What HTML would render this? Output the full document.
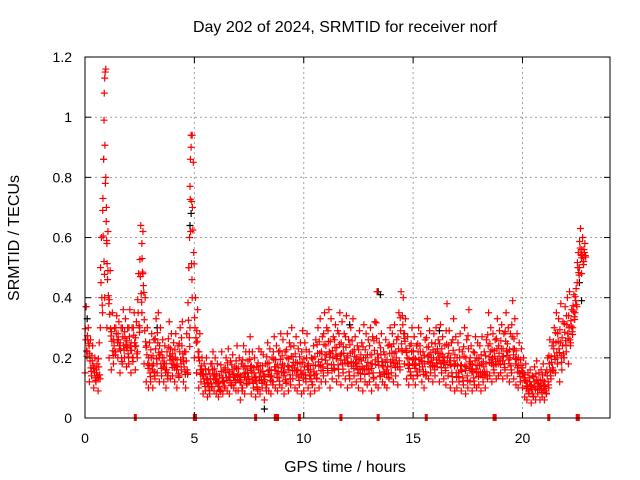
<!DOCTYPE html>
<html><head><meta charset="utf-8"><style>
body{margin:0;background:#fff}
svg{display:block;font-family:"Liberation Sans",sans-serif}
</style></head><body>
<svg id="c" width="640" height="480">
<text x="345" y="32" font-size="16" text-anchor="middle">Day 202 of 2024, SRMTID for receiver norf</text>
<text x="345" y="472" font-size="16" text-anchor="middle">GPS time / hours</text>
<text transform="translate(19,238) rotate(-90)" font-size="16" text-anchor="middle">SRMTID / TECUs</text>
<g id="grid"></g><g id="black"></g><g id="red"></g><g id="axes"></g>
</svg>
<script>
const xTicks=[0,5,10,15,20];
const yTicks=[0,0.2,0.4,0.6,0.8,1,1.2];
const yTickLabels=["0","0.2","0.4","0.6","0.8","1","1.2"];
const redLo=[.15,.22,.12,.14,.10,.12,.09,.30,.35,.40,
.30,.20,.16,.18,.22,.20,.15,.18,.20,.17,
.18,.15,.20,.16,.22,.30,.35,.18,.12,.10,
.12,.10,.13,.15,.12,.14,.12,.10,.15,.13,
.14,.12,.10,.14,.16,.12,.10,.15,.30,.40,
.20,.15,.10,.12,.08,.09,.07,.08,.10,.09,
.08,.07,.09,.08,.10,.09,.08,.11,.10,.09,
.09,.06,.10,.08,.11,.12,.08,.10,.07,.09,
.08,.10,.06,.11,.09,.08,.12,.10,.09,.11,
.10,.08,.12,.09,.11,.13,.10,.09,.11,.08,
.09,.12,.10,.08,.11,.09,.13,.10,.12,.14,
.12,.15,.10,.13,.16,.12,.14,.11,.15,.13,
.10,.13,.11,.14,.12,.10,.13,.09,.12,.11,
.12,.09,.13,.11,.10,.14,.12,.11,.10,.13,
.15,.12,.14,.11,.16,.22,.18,.13,.11,.14,
.13,.11,.14,.16,.12,.10,.14,.13,.15,.12,
.14,.17,.12,.15,.13,.11,.14,.10,.12,.09,
.10,.12,.09,.11,.08,.10,.12,.09,.11,.10,
.11,.09,.12,.10,.13,.14,.12,.15,.13,.14,
.15,.13,.16,.14,.12,.15,.13,.11,.10,.12,
.10,.07,.06,.08,.05,.07,.06,.08,.06,.07,
.06,.08,.10,.13,.16,.15,.18,.12,.16,.20,
.22,.18,.25,.30,.35,.45,.50,.48,.52];
const redHi=[.37,.30,.26,.24,.20,.18,.25,.60,.86,1.16,
.62,.49,.35,.30,.34,.32,.30,.36,.33,.30,
.36,.30,.35,.32,.48,.64,.62,.40,.30,.25,
.28,.26,.33,.35,.30,.26,.24,.22,.32,.28,
.25,.28,.24,.30,.32,.22,.28,.50,.94,.85,
.40,.36,.28,.20,.18,.20,.16,.18,.22,.20,
.18,.14,.22,.16,.20,.23,.19,.21,.17,.24,
.20,.18,.24,.22,.19,.27,.22,.20,.17,.23,
.22,.21,.18,.25,.23,.20,.27,.24,.22,.28,
.26,.22,.28,.25,.30,.24,.27,.23,.25,.29,
.25,.28,.22,.20,.24,.26,.30,.33,.27,.35,
.30,.36,.33,.27,.31,.29,.35,.32,.28,.34,
.26,.30,.33,.27,.24,.29,.25,.31,.28,.26,
.30,.27,.32,.42,.25,.28,.22,.26,.24,.30,
.28,.31,.26,.35,.42,.40,.33,.27,.24,.30,
.27,.24,.30,.28,.22,.26,.33,.29,.25,.28,
.30,.26,.31,.27,.24,.38,.29,.25,.33,.27,
.25,.28,.22,.30,.26,.36,.24,.22,.27,.25,
.24,.27,.22,.26,.35,.30,.28,.26,.33,.29,
.31,.28,.35,.30,.28,.39,.33,.28,.25,.23,
.20,.18,.15,.16,.14,.17,.19,.15,.16,.18,
.15,.20,.26,.24,.30,.35,.33,.38,.32,.37,
.40,.42,.36,.41,.43,.55,.63,.60,.58];
const spikeHours=[0.82,0.85,0.87,0.88,0.9,0.92,0.95,0.98,1.0,1.05,2.6,2.65,4.75,4.78,4.8,4.82,4.85,4.88,4.9];
const spikeVals=[0.73,0.86,0.99,1.08,1.13,1.15,0.8,0.7,0.58,0.49,0.58,0.48,0.5,0.6,0.77,0.86,0.9,0.72,0.94];
const blackHours=[0.05,0.1,4.8,4.85,8.2,13.4,13.5,22.6,22.7,3.3,16.2,12.1];
const blackVals=[0.37,0.33,0.64,0.68,0.03,0.42,0.41,0.45,0.39,0.3,0.29,0.31];
const zeroHours=[2.3,5.0,5.05,7.8,8.7,8.8,9.8,11.7,13.4,15.6,18.7,18.75,21.2,22.5,22.55];
const X=h=>85+h*21.875, Y=v=>418-v*300.8;
const ns="http://www.w3.org/2000/svg";
function mk(t,a,p){const e=document.createElementNS(ns,t);for(const k in a)e.setAttribute(k,a[k]);p.appendChild(e);return e;}
const grid=document.getElementById('grid'),axes=document.getElementById('axes');
xTicks.forEach(t=>{const l=mk('line',{x1:X(t),x2:X(t),y1:57,y2:418,stroke:'#a0a0a0','stroke-dasharray':'2,3'},grid);

const tx=mk('text',{x:X(t),y:443,'font-size':14,'text-anchor':'middle'},axes);tx.textContent=t;

mk('line',{x1:X(t),x2:X(t),y1:418,y2:412,stroke:'#000'},axes);mk('line',{x1:X(t),x2:X(t),y1:57,y2:63,stroke:'#000'},axes);});
yTicks.forEach((t,i)=>{const l=mk('line',{x1:85,x2:610,y1:Y(t),y2:Y(t),stroke:'#a0a0a0','stroke-dasharray':'2,3'},grid);

const tx=mk('text',{x:72,y:Y(t)+5,'font-size':14,'text-anchor':'end'},axes);tx.textContent=yTickLabels[i];

mk('line',{x1:85,x2:91,y1:Y(t),y2:Y(t),stroke:'#000'},axes);mk('line',{x1:610,x2:604,y1:Y(t),y2:Y(t),stroke:'#000'},axes);});
const fr=mk('rect',{x:85,y:57,width:525,height:361,fill:'none',stroke:'#000'},axes);

function plus(h,v,col,g){const x=X(h),y=Y(v);const p=mk('path',{d:`M${x-3.5} ${y}h7M${x} ${y-3.5}v7`,stroke:col,'stroke-width':1.2,fill:'none'},g);
}
const black=document.getElementById('black'),red=document.getElementById('red');
blackHours.forEach((h,i)=>plus(h,blackVals[i],'#000',black));
redLo.forEach((lo,i)=>{const h=i*0.1,hi=redHi[i];
plus(h,lo,'#f00',red);plus(h+0.05,hi,'#f00',red);plus(h+0.03,(lo+hi)/2,'#f00',red);plus(h+0.07,(2*lo+hi)/3,'#f00',red);plus(h+0.01,(lo+2*hi)/3,'#f00',red);plus(h+0.09,(3*lo+hi)/4,'#f00',red);});
spikeHours.forEach((h,i)=>plus(h,spikeVals[i],'#f00',red));
zeroHours.forEach(h=>{const r=mk('rect',{x:X(h)-1.5,y:414,width:3,height:7,fill:'#f00'},red);
});
</script>
</body></html>
